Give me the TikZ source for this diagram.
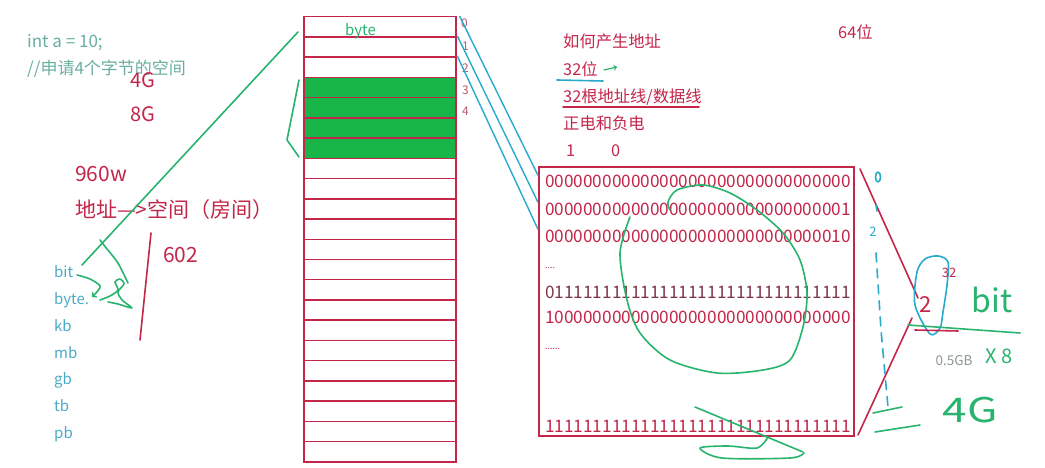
\documentclass[tikz,border=0pt]{standalone}
\usepackage{fontspec}
\setmainfont{Noto Sans CJK SC}
\usetikzlibrary{positioning}

\definecolor{inkred}{RGB}{196,38,74}
\definecolor{darkred}{RGB}{125,55,72}
\definecolor{labred}{RGB}{185,90,110}
\definecolor{pengreen}{RGB}{40,180,110}
\definecolor{cellgreen}{RGB}{24,182,72}
\definecolor{pencyan}{RGB}{40,170,205}
\definecolor{codegray}{RGB}{105,175,160}
\definecolor{unitblue}{RGB}{75,170,200}
\definecolor{softgray}{RGB}{140,150,150}

\tikzset{
  cell/.style={draw=inkred, line width=1.5pt, minimum width=152pt, minimum height=20.23pt, inner sep=0pt, anchor=north west},
  txt/.style={inner sep=0pt, anchor=base west},
  code/.style={txt, text=codegray, font=\fontsize{17}{19}\selectfont},
  redtxt/.style={txt, text=inkred, font=\fontsize{16.3}{18}\selectfont},
  bigred/.style={txt, text=inkred, font=\fontsize{21}{23}\selectfont},
  bitrow/.style={txt, text=inkred, font=\fontsize{17.2}{19}\selectfont},
  unit/.style={txt, text=unitblue, font=\fontsize{15}{17}\selectfont},
  idx/.style={txt, text=labred, font=\fontsize{12}{13}\selectfont},
  ink/.style={line width=1.6pt, line cap=round, line join=round},
}

\begin{document}
\begin{tikzpicture}[x=1pt, y=-1pt]
  \useasboundingbox[fill=white] (0,0) rectangle (1045,468);

  % memory column
  \foreach \i in {0,...,21} {
    \ifnum\i>2 \ifnum\i<7 \def\cf{cellgreen}\else\def\cf{white}\fi\else\def\cf{white}\fi
    \node[cell, fill=\cf] (cell\i) at (303,{16+20.23*\i}) {};
  }
  \node[txt, text=pengreen, font=\fontsize{15}{17}\selectfont] (bytelbl) at (345,36) {byte};
  \node[idx] (idx0) at (461,28) {0};
  \node[idx] (idx1) at (462,51) {1};
  \node[idx] (idx2) at (462,73) {2};
  \node[idx] (idx3) at (462,95) {3};
  \node[idx] (idx4) at (462,116) {4};

  % left notes
  \node[code] (code) at (27,48) {int a = 10;};
  \node[code] (comment) at (27,75) {//申请4个字节的空间};
  \node[bigred, font=\fontsize{20}{22}\selectfont] (g4) at (130,88) {4G};
  \node[bigred, font=\fontsize{20}{22}\selectfont] (g8) at (130,122) {8G};
  \node[bigred] (w960) at (75,182) {960w};
  \node[bigred] (addr) at (75,218) {地址—>空间（房间）};
  \node[bigred] (n602) at (163,262) {602};
  \foreach \u/\y in {bit/277, byte./304, kb/331, mb/358, gb/384, tb/411, pb/438}
    \node[unit] (u\u) at (54,\y) {\u};

  % right notes
  \node[redtxt] (how) at (563,48) {如何产生地址};
  \node[redtxt] (b64) at (838,39) {64位};
  \node[redtxt] (b32) at (563,76) {32位};
  \node[redtxt] (lines) at (563,103) {32根地址线/数据线};
  \node[redtxt] (charge) at (563,130) {正电和负电};
  \node[redtxt] (one) at (566,157) {1};
  \node[redtxt] (zero) at (611,157) {0};
  \draw[ink, pencyan] (557,80) -- (603,81);
  \draw[ink, inkred] (563,107) -- (699,107);
  \draw[ink, pengreen, line width=1.2pt, ->] (604,70) -- (617,67);

  % address box
  \node[draw=inkred, line width=2pt, minimum width=315pt, minimum height=269pt, inner sep=0pt, anchor=north west] (bits) at (538,166) {};
  \node[bitrow] (row0) at (545,188) {00000000000000000000000000000000};
  \node[bitrow] (row1) at (545,215) {00000000000000000000000000000001};
  \node[bitrow] (row2) at (545,242) {00000000000000000000000000000010};
  \node[txt, text=inkred, font=\fontsize{9}{9}\selectfont] (dots1) at (545,268) {....};
  \node[bitrow, text=darkred] (row3) at (545,298) {01111111111111111111111111111111};
  \node[bitrow] (row4) at (545,323) {10000000000000000000000000000000};
  \node[txt, text=inkred, font=\fontsize{9}{9}\selectfont] (dots2) at (545,349) {......};
  \node[bitrow] (rowN) at (545,432) {11111111111111111111111111111111};

  \draw[pencyan, line width=1.4pt] ([xshift=3pt]cell0.north east) -- (bits.west |- row0.north);
  \draw[pencyan, line width=1.4pt] ([xshift=1pt]cell1.north east) -- (bits.west |- row1.north);
  \draw[pencyan, line width=1.4pt] ([xshift=1pt]cell2.north east) -- (bits.west |- row2.north);

  % pen strokes
  \draw[ink, pengreen] (82,265) -- (298,32);
  \draw[ink, pengreen] (299,80) -- (287,140) -- (299,157);
  \draw[ink, pengreen] (100,240) -- (107,249) .. controls (118,262) .. (128,283);
  \draw[ink, pengreen, ->] plot[smooth] coordinates {(77,275) (90,279) (100,286) (96,293) (92,297)};
  \draw[ink, pengreen] plot[smooth] coordinates {(100,300) (110,296) (118,290) (115,282) (120,279) (124,284) (118,292) (122,300) (132,308) (118,304) (108,302)};
  \draw[ink, inkred] (151,233) -- (140,340);

  \draw[ink, pengreen] plot[smooth] coordinates {(630,217) (620,253) (627,300) (640,333) (670,360) (717,373) (763,370) (790,360) (803,327) (807,293) (800,260) (783,233) (757,210) (730,193) (703,185) (677,190) (668,202) (670,210)};
  \draw[ink, pengreen] (695,407) -- (803,452);
  \draw[ink, pengreen] plot[smooth] coordinates {(768,437) (757,448) (728,446) (700,448) (722,458) (790,458) (804,453)};

  \coordinate (apexA) at (918,298);
  \coordinate (apexB) at (912,318);
  \draw[ink, inkred] ([xshift=5pt,yshift=-3pt]bits.north east) -- (apexA);
  \draw[ink, inkred] ([xshift=3pt,yshift=2pt]bits.south east) -- (apexB);
  \draw[ink, pencyan] (878,177) ellipse (2.5 and 5);
  \draw[ink, pencyan] (876,205) -- (877,211);
  \node[text=pencyan, font=\fontsize{13}{13}\selectfont] (two) at (873,232) {2};
  \draw[ink, pencyan, dash pattern=on 9pt off 7pt] (876,253) -- (881,330) -- (888,407);
  \draw[ink, pencyan] plot[smooth cycle] coordinates {(930,334) (915,305) (917,272) (925,259) (938,256) (948,262) (947,285) (943,312) (940,328)};
  \node[text=inkred, font=\fontsize{22}{22}\selectfont] (twored) at (926,305) {2};
  \node[text=inkred, font=\fontsize{13}{13}\selectfont] (pow) at (949,273) {32};
  \node[text=pengreen, font=\fontsize{32}{32}\selectfont] (bitbig) at (992,300) {bit};
  \draw[ink, pengreen] (908,325) -- (1020,333);
  \draw[ink, inkred] (915,330) -- (958,331);
  \node[text=softgray, font=\fontsize{13.5}{14}\selectfont] (half) at (954,361) {0.5GB};
  \node[text=pengreen, font=\fontsize{20}{20}\selectfont] (times8) at (999,356) {X 8};
  \draw[ink, pengreen] (873,413) -- (902,407);
  \draw[ink, pengreen] (875,432) -- (920,425);
  \node[text=pengreen, font=\fontsize{34}{34}\selectfont] (four) at (970,410) {\scalebox{1.3}[1]{4G}};
\end{tikzpicture}
\end{document}
